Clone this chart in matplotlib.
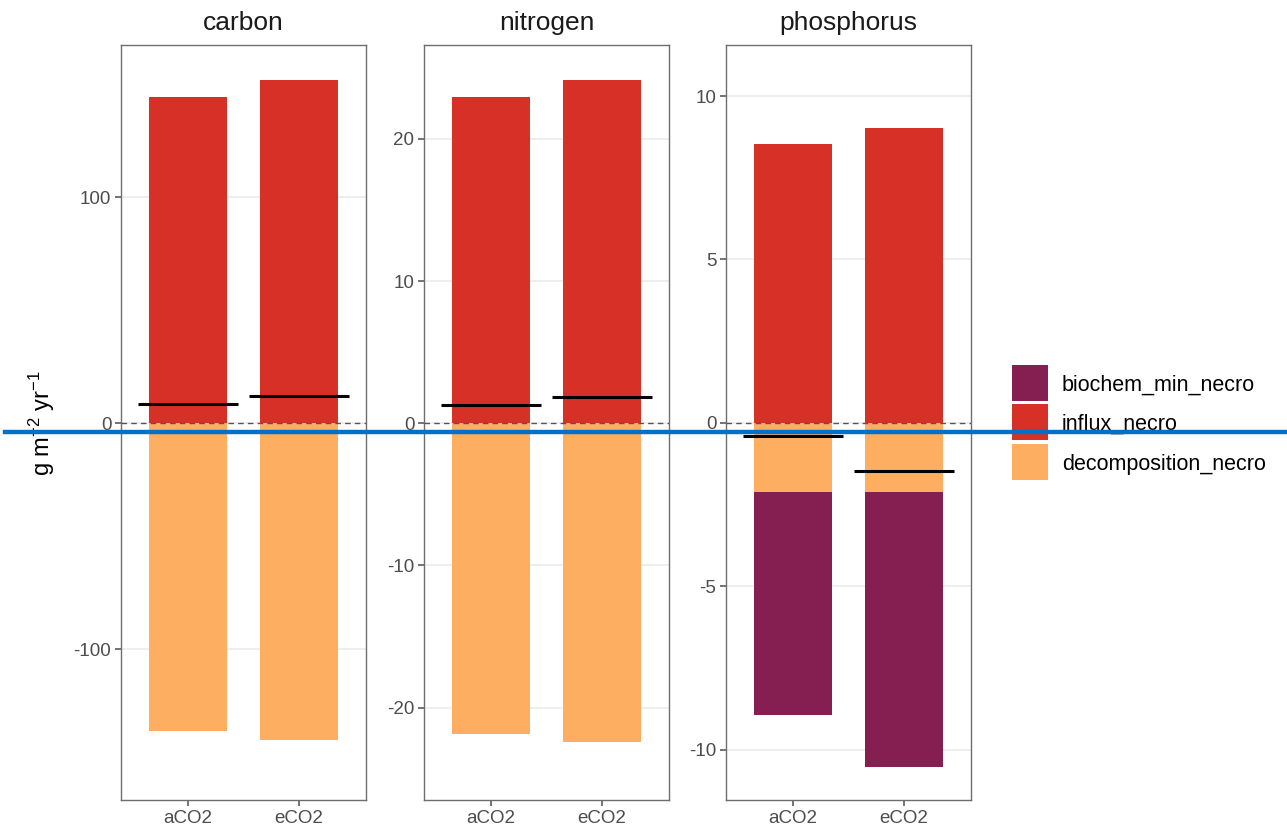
import matplotlib
matplotlib.use("Agg")
import matplotlib.pyplot as plt
from matplotlib.lines import Line2D
from matplotlib.patches import Rectangle
import numpy as np

plt.rcParams["font.family"] = ["Liberation Sans", "DejaVu Sans"]
plt.rcParams["mathtext.default"] = "regular"

elements = ["carbon", "nitrogen", "phosphorus"]
treatments = ["aCO2", "eCO2"]
influx_necro = {"carbon": [144.2, 151.8], "nitrogen": [22.96, 24.15], "phosphorus": [8.53, 9.02]}
decomposition_necro = {"carbon": [-136.3, -140.3], "nitrogen": [-21.83, -22.39], "phosphorus": [-2.11, -2.11]}
biochem_min_necro = {"carbon": [0.0, 0.0], "nitrogen": [0.0, 0.0], "phosphorus": [-6.82, -8.41]}
net_flux = {"carbon": [8.4, 11.9], "nitrogen": [1.27, 1.83], "phosphorus": [-0.40, -1.47]}
yticks = {"carbon": [-100, 0, 100], "nitrogen": [-20, -10, 0, 10, 20], "phosphorus": [-10, -5, 0, 5, 10]}
ylims = {"carbon": (-166.8, 167.3), "nitrogen": (-26.5, 26.6), "phosphorus": (-11.53, 11.56)}
legend_labels = ["biochem_min_necro", "influx_necro", "decomposition_necro"]

col_bio = "#861F51"
col_inf = "#D73027"
col_dec = "#FDAE61"
legend_colors = [col_bio, col_inf, col_dec]

W, H = 1287, 832
fig = plt.figure(figsize=(W / 100, H / 100), dpi=100)
lefts = [121, 424, 726]
top, bottom = 45, 800
pw = 245

for el, lx in zip(elements, lefts):
    ax = fig.add_axes([lx / W, (H - bottom) / H, pw / W, (bottom - top) / H])
    x = np.arange(1, len(treatments) + 1)
    inf = np.array(influx_necro[el])
    dec = np.array(decomposition_necro[el])
    bio = np.array(biochem_min_necro[el])
    ax.bar(x, inf, width=0.7, color=col_inf, zorder=2)
    ax.bar(x, dec, width=0.7, color=col_dec, zorder=2)
    ax.bar(x, bio, width=0.7, bottom=dec, color=col_bio, zorder=2)
    for xi, nv in zip(x, net_flux[el]):
        ax.plot([xi - 0.45, xi + 0.45], [nv, nv], color="black", lw=2.2, zorder=4, solid_capstyle="butt")
    ax.axhline(0, color="#555555", lw=1.0, ls=(0, (4, 3)), zorder=3)
    ax.set_xlim(0.4, 2.6)
    ax.set_ylim(*ylims[el])
    ax.set_xticks(x)
    ax.set_xticklabels(treatments)
    ax.set_yticks(yticks[el])
    ax.set_yticklabels([str(t) for t in yticks[el]])
    ax.yaxis.grid(True, color="#EBEBEB", lw=1.2, zorder=0)
    ax.set_axisbelow(True)
    ax.tick_params(axis="both", colors="#4D4D4D", labelsize=13.5, length=4, width=1.1,
                   labelcolor="#4D4D4D", pad=3)
    for s in ax.spines.values():
        s.set_color("#6E6E6E")
        s.set_linewidth(1.0)
    ax.set_title(el, fontsize=19, color="#1A1A1A", pad=11)

fig.text(42 / W, 1 - 423 / H, r"g m$^{-2}$ yr$^{-1}$", rotation=90, ha="center", va="center",
         fontsize=17, color="black")

# legend drawn as keys + labels
key_x, key_w, key_h = 1012, 36, 36
key_tops = [365, 404, 444]
for lab, col, ky in zip(legend_labels, legend_colors, key_tops):
    fig.add_artist(Rectangle((key_x / W, 1 - (ky + key_h) / H), key_w / W, key_h / H,
                             facecolor=col, edgecolor="none", transform=fig.transFigure))
    fig.text(1062 / W, 1 - (ky + key_h / 2) / H, lab, ha="left", va="center_baseline",
             fontsize=15.5, color="black")

fig.add_artist(Line2D([5 / W, 1.0], [1 - 432 / H, 1 - 432 / H], color="#0070C8", lw=3.2,
                      transform=fig.transFigure, zorder=100))

fig.savefig("out.png", dpi=100)
